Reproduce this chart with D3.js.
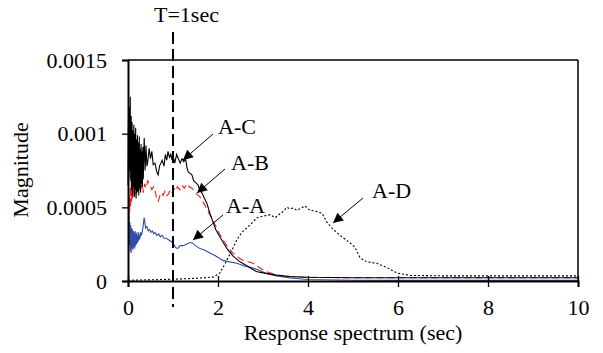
<!DOCTYPE html>
<html><head><meta charset="utf-8">
<script src="https://cdn.jsdelivr.net/npm/d3@7"></script>
<style>body{margin:0;background:#fff}svg{display:block}</style>
</head><body><svg id="c" width="603" height="353"></svg>
<script>
// ---- data ----
const xTicks = [0, 2, 4, 6, 8, 10];
const yTicks = [0, 0.0005, 0.001, 0.0015];
const yTickLabels = ["0", "0.0005", "0.001", "0.0015"];
const seriesNames = ["A-A", "A-B", "A-C", "A-D"];

const periodAC = [0.00,0.01,0.02,0.03,0.04,0.05,0.06,0.07,0.08,0.09,0.10,0.11,0.12,0.13,0.14,0.15,0.16,0.17,0.18,0.19,0.20,0.21,0.22,0.23,0.24,0.25,0.26,0.27,0.28,0.29,0.30,0.31,0.32,0.33,0.34,0.35,0.36,0.38,0.40,0.42,0.44,0.47,0.50,0.53,0.56,0.60,0.64,0.67,0.70,0.73,0.76,0.80,0.83,0.86,0.89,0.92,0.95,0.98,1.00,1.04,1.08,1.12,1.16,1.20,1.24,1.28,1.31,1.34,1.38,1.42,1.46,1.50,1.56,1.60,1.64,1.70,1.75,1.82,1.89,1.95,2.04,2.12,2.20,2.33,2.49,2.60,2.71,2.85,3.00,3.30,3.60,4.00,5.00,6.00,7.00,8.00,9.00,10.0];
const valueAC = [0.00065,0.00110,0.00070,0.00118,0.00075,0.00125,0.00068,0.00112,0.00062,0.00108,0.00058,0.00102,0.00064,0.00106,0.00057,0.00100,0.00062,0.00104,0.00056,0.00096,0.00060,0.00099,0.00061,0.00094,0.00058,0.00098,0.00063,0.00090,0.00060,0.00093,0.00066,0.00088,0.00064,0.00091,0.00069,0.00086,0.00097,0.00075,0.00092,0.00078,0.00081,0.00090,0.00083,0.00088,0.00079,0.00080,0.00074,0.00072,0.00078,0.00080,0.00082,0.00078,0.00086,0.00082,0.00088,0.00084,0.00086,0.00082,0.00085,0.00080,0.00086,0.00083,0.00080,0.00083,0.00081,0.00083,0.00077,0.00074,0.00073,0.00072,0.00068,0.00067,0.00065,0.00061,0.00060,0.00056,0.00053,0.00046,0.00040,0.00035,0.00030,0.00026,0.00022,0.00017,0.00013,0.00011,0.000090,0.000065,0.000055,0.000040,0.000030,0.000025,0.000022,0.000022,0.000022,0.000022,0.000022,0.000022];

const periodAB = [0.02,0.03,0.04,0.05,0.06,0.07,0.08,0.09,0.10,0.11,0.12,0.13,0.14,0.15,0.16,0.17,0.18,0.19,0.20,0.21,0.22,0.23,0.24,0.25,0.26,0.27,0.28,0.29,0.30,0.32,0.34,0.37,0.40,0.44,0.49,0.53,0.57,0.60,0.64,0.67,0.71,0.75,0.78,0.82,0.86,0.90,0.94,0.98,1.02,1.06,1.10,1.15,1.20,1.25,1.31,1.36,1.42,1.50,1.60,1.70,1.80,1.89,2.00,2.11,2.22,2.33,2.45,2.56,2.67,2.78,2.90,3.00,3.15,3.30,3.60,4.00,5.00,6.00,7.00,8.00,9.00,10.0];
const valueAB = [0.00042,0.00058,0.00047,0.00064,0.00050,0.00068,0.00054,0.00070,0.00056,0.00067,0.00058,0.00071,0.00057,0.00066,0.00059,0.00069,0.00058,0.00066,0.00060,0.00070,0.00061,0.00068,0.00062,0.00072,0.00062,0.00067,0.00061,0.00068,0.00063,0.00066,0.00060,0.00066,0.00063,0.00068,0.00065,0.00062,0.00064,0.00062,0.00055,0.00054,0.00058,0.00060,0.00058,0.00061,0.00058,0.00059,0.00062,0.00060,0.00063,0.00061,0.00064,0.00062,0.00065,0.00063,0.00066,0.00064,0.00063,0.00060,0.00057,0.00052,0.00046,0.00041,0.00034,0.00028,0.00023,0.00019,0.00016,0.00014,0.00013,0.00012,0.000095,0.000075,0.000055,0.000040,0.000030,0.000025,0.000022,0.000022,0.000022,0.000022,0.000022,0.000022];

const periodAA = [0.02,0.03,0.04,0.05,0.06,0.07,0.08,0.09,0.10,0.11,0.12,0.13,0.14,0.15,0.16,0.17,0.18,0.19,0.20,0.21,0.22,0.23,0.24,0.25,0.26,0.27,0.28,0.30,0.33,0.36,0.39,0.42,0.45,0.48,0.51,0.54,0.57,0.60,0.64,0.68,0.72,0.76,0.80,0.85,0.90,0.95,1.00,1.05,1.10,1.16,1.22,1.30,1.36,1.42,1.50,1.60,1.70,1.82,1.95,2.11,2.25,2.42,2.60,2.71,2.90,3.09,3.30,3.60,4.00,5.00,6.00,7.00,8.00,9.00,10.0];
const valueAA = [0.00046,0.00024,0.00040,0.00020,0.00038,0.00019,0.00036,0.00022,0.00035,0.00021,0.00034,0.00023,0.00033,0.00022,0.00034,0.00024,0.00032,0.00025,0.00033,0.00026,0.00031,0.00027,0.00033,0.00028,0.00031,0.00029,0.00033,0.00031,0.00036,0.00043,0.00036,0.00037,0.00034,0.00035,0.00033,0.00034,0.00032,0.00033,0.00031,0.00032,0.00030,0.00031,0.00029,0.00029,0.00028,0.00027,0.00026,0.00023,0.00022,0.00024,0.00024,0.00025,0.00026,0.00026,0.00024,0.00022,0.00021,0.00019,0.00017,0.00014,0.00013,0.00012,0.00010,0.000095,0.000075,0.000050,0.000035,0.000020,0.000010,0.000005,0.000004,0.000004,0.000004,0.000004,0.000004];

const periodAD = [0.00,0.50,1.00,1.50,1.90,2.04,2.16,2.31,2.42,2.53,2.71,2.87,3.00,3.16,3.27,3.35,3.44,3.53,3.60,3.67,3.75,3.82,3.93,4.04,4.16,4.31,4.42,4.53,4.71,4.93,5.04,5.16,5.31,5.53,5.76,5.98,6.27,7.00,8.00,9.00,10.0];
const valueAD = [0.000005,0.000008,0.000012,0.000018,0.000027,0.000054,0.00012,0.00021,0.00028,0.00033,0.00038,0.00043,0.00044,0.00045,0.00043,0.00045,0.00047,0.00050,0.00049,0.000495,0.00048,0.00049,0.00051,0.00048,0.000475,0.00046,0.00040,0.00036,0.00031,0.00026,0.00023,0.000156,0.00013,0.00012,0.00009,0.000054,0.000038,0.000035,0.000035,0.000035,0.000035];

const markerPeriod = 1;
const markerLabel = "T=1sec";
const xTitle = "Response spectrum (sec)";
const yTitle = "Magnitude";

// ---- drawing ----
const FONT = '"Liberation Serif", "Times New Roman", Tinos, "DejaVu Serif", serif';
const FS = "22px";
const svg = d3.select("#c");
const x = d3.scaleLinear().domain([0, 10]).range([128, 578]);
const y = d3.scaleLinear().domain([0, 0.0015]).range([281, 60]);

const series = [
  {name: "A-A", px: periodAA, v: valueAA, color: "#2f4ea8", dash: null, w: 1.1},
  {name: "A-B", px: periodAB, v: valueAB, color: "#f02020", dash: "7,4", w: 1.1},
  {name: "A-C", px: periodAC, v: valueAC, color: "#000", dash: null, w: 1.1},
  {name: "A-D", px: periodAD, v: valueAD, color: "#000", dash: "2,2", w: 1.1}
];

// frame top/right
svg.append("line").attr("x1", x(0)).attr("x2", x(10)).attr("y1", y(0.0015)).attr("y2", y(0.0015)).attr("stroke", "#000").attr("stroke-width", 1.5);
svg.append("line").attr("x1", x(10)).attr("x2", x(10)).attr("y1", y(0.0015)).attr("y2", y(0)).attr("stroke", "#000").attr("stroke-width", 1.5);

const line = d3.line().x(d => x(d[0])).y(d => y(d[1]));
const drawOrder = [3, 0, 1, 2];
drawOrder.forEach(i => {
  const s = series[i];
  const pts = s.px.map((p, k) => [p, s.v[k]]);
  svg.append("path").datum(pts).attr("d", line).attr("fill", "none")
    .attr("stroke", s.color).attr("stroke-width", s.w)
    .attr("stroke-dasharray", s.dash);
});

// x axis
const xAxis = d3.axisBottom(x).tickValues(xTicks).tickFormat(d3.format("d")).tickSize(6).tickPadding(14);
const gx = svg.append("g").attr("transform", `translate(0,${y(0)})`).call(xAxis);
gx.attr("font-family", null).attr("font-size", null);
gx.select(".domain").attr("stroke-width", 2);
gx.selectAll(".tick line").attr("y1", -5).attr("y2", 6).attr("stroke-width", 1.3);
gx.selectAll("text").attr("dy", null).attr("y", 34).style("font-family", FONT).style("font-size", FS);

// y axis
const yAxis = d3.axisLeft(y).tickValues(yTicks).tickFormat((d, i) => yTickLabels[i]).tickSize(6).tickPadding(14);
const gy = svg.append("g").attr("transform", `translate(${x(0)},0)`).call(yAxis);
gy.attr("font-family", null).attr("font-size", null);
gy.select(".domain").attr("stroke-width", 2);
gy.selectAll(".tick line").attr("stroke-width", 1.3);
gy.selectAll("text").attr("x", -21).style("font-family", FONT).style("font-size", FS);

// marker line
svg.append("line").attr("x1", x(markerPeriod)).attr("x2", x(markerPeriod)).attr("y1", 32).attr("y2", 307)
  .attr("stroke", "#000").attr("stroke-width", 2).attr("stroke-dasharray", "12,5");
const label = (sel) => sel.style("font-family", FONT).style("font-size", FS).attr("fill", "#000");
svg.append("text").attr("x", 154).attr("y", 22).text(markerLabel).call(label);

// titles
svg.append("text").attr("x", (x(0) + x(10)) / 2).attr("y", 340).attr("text-anchor", "middle").text(xTitle).call(label);
svg.append("text").attr("transform", "translate(28,170) rotate(-90)").attr("text-anchor", "middle").text(yTitle).call(label);

// annotations
svg.append("defs").append("marker").attr("id", "ah").attr("viewBox", "0 0 10 10").attr("refX", 10).attr("refY", 5)
  .attr("markerWidth", 12).attr("markerHeight", 10).attr("markerUnits", "userSpaceOnUse").attr("orient", "auto")
  .append("path").attr("d", "M0,0 L10,5 L0,10 Z").attr("fill", "#000");
const notes = [
  {t: "A-C", tx: 218, ty: 134, x1: 213, y1: 134, x2: 183, y2: 160},
  {t: "A-B", tx: 231, ty: 170, x1: 225, y1: 169, x2: 197, y2: 193},
  {t: "A-A", tx: 226, ty: 213, x1: 223, y1: 215, x2: 193, y2: 240},
  {t: "A-D", tx: 372, ty: 198, x1: 363, y1: 198, x2: 333, y2: 223}
];
notes.forEach(n => {
  svg.append("line").attr("x1", n.x1).attr("y1", n.y1).attr("x2", n.x2).attr("y2", n.y2)
    .attr("stroke", "#000").attr("stroke-width", 1).attr("marker-end", "url(#ah)");
  svg.append("text").attr("x", n.tx).attr("y", n.ty).text(n.t).call(label);
});
</script></body></html>
